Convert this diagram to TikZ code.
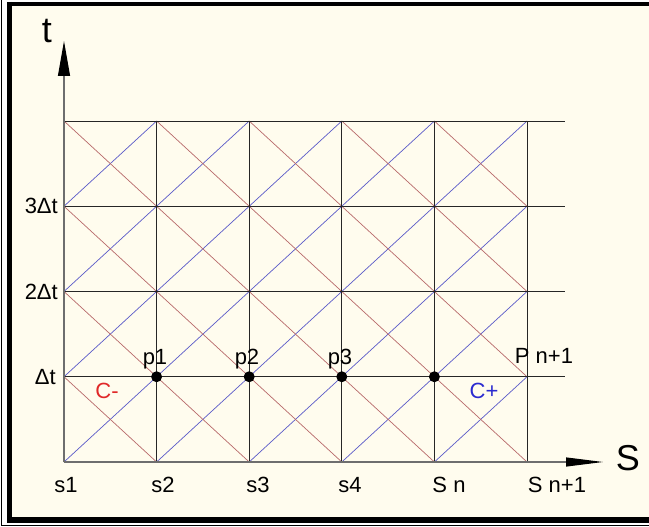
\documentclass[tikz,border=0pt]{standalone}
\usepackage{fontspec}
\setmainfont{Liberation Sans}
\usetikzlibrary{arrows.meta}
\definecolor{cream}{HTML}{FFFCEE}
\definecolor{diagblue}{HTML}{5A5AC8}
\definecolor{diagred}{HTML}{B86A6A}
\definecolor{gridcol}{HTML}{262626}
\definecolor{axiscol}{HTML}{6E6E6E}
\definecolor{cminus}{HTML}{E02828}
\definecolor{cplus}{HTML}{2A2AD0}
\tikzset{
  gridline/.style={draw=gridcol, line width=0.9pt},
  axisline/.style={draw=axiscol, line width=1.1pt},
  blueline/.style={draw=diagblue, line width=0.7pt},
  redline/.style={draw=diagred, line width=0.7pt},
  lbl/.style={inner sep=0pt, anchor=base, font=\fontsize{22}{26}\selectfont},
  biglbl/.style={inner sep=0pt, anchor=base, font=\fontsize{36}{42}\selectfont},
  dotnode/.style={circle, fill=black, inner sep=0pt, minimum size=11pt}
}
\begin{document}
\begin{tikzpicture}[x=1pt,y=-1pt]
\useasboundingbox (0,0) rectangle (649,527);
\fill[white] (0,0) rectangle (649,527);
\fill[cream] (9.5,4) rectangle (649,520);
% frame
\draw[line width=4pt] (9.5,4) -- (649,4);
\draw[line width=5pt] (9.5,2) -- (9.5,523);
\draw[line width=6pt] (7,520) -- (649,520);
\draw[line width=1.6pt] (1.5,0) -- (1.5,525.5) -- (649,525.5);
% grid coordinates
\foreach \i in {0,...,5}
  \foreach \j in {0,...,4}
    \coordinate (g\i\j) at ({64+92.6*\i},{462-85.25*\j});
\foreach \j in {1,...,4}
  \coordinate (e\j) at (565,{462-85.25*\j});
\coordinate (stip) at (603,462);
\coordinate (ttip) at (64,41);
% diagonals
\foreach \i in {0,...,4}{
  \foreach \j in {0,...,3}{
    \pgfmathtruncatemacro{\ii}{\i+1}
    \pgfmathtruncatemacro{\jj}{\j+1}
    \draw[blueline] (g\i\j) -- (g\ii\jj);
    \draw[redline] (g\i\jj) -- (g\ii\j);
  }
}
% grid lines
\foreach \j in {1,...,4}
  \draw[gridline] (g0\j) -- (e\j);
\foreach \i in {1,...,5}
  \draw[gridline] (g\i0) -- (g\i4);
% axes
\draw[axisline, -{Triangle[length=37pt,width=9pt,color=black]}] (g00) -- (stip);
\draw[axisline, -{Triangle[length=35pt,width=12pt,color=black]}] (g00) -- (ttip);
% dots
\node[dotnode] (p1d) at (g11) {};
\node[dotnode] (p2d) at (g21) {};
\node[dotnode] (p3d) at (g31) {};
\node[dotnode] (pnd) at (g41) {};
% labels
\node[biglbl] (tl) at (47,43) {t};
\node[biglbl] (sl) at (628,470) {S};
\node[lbl] (s1) at (66,492) {s1};
\node[lbl] (s2) at (163,492) {s2};
\node[lbl] (s3) at (258,492) {s3};
\node[lbl] (s4) at (350,492) {s4};
\node[lbl] (sn) at (449,492) {S n};
\node[lbl] (sn1) at (557,492) {S n+1};
\node[lbl, anchor=base east] (t3) at (58,214) {3Δt};
\node[lbl, anchor=base east] (t2) at (58,299) {2Δt};
\node[lbl, anchor=base east] (t1) at (56,384) {Δt};
\node[lbl] (p1) at (155,364) {p1};
\node[lbl] (p2) at (247,364) {p2};
\node[lbl] (p3) at (340,364) {p3};
\node[lbl] (pn1) at (544,363) {P n+1};
\node[lbl, text=cminus] (cm) at (107,398) {C-};
\node[lbl, text=cplus] (cp) at (484,398) {C+};
\end{tikzpicture}
\end{document}
